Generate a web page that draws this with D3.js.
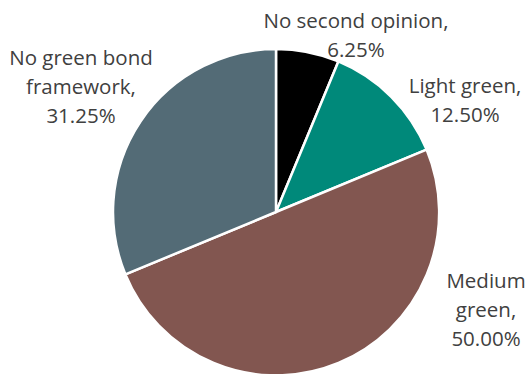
<!DOCTYPE html>
<html>
<head>
<meta charset="utf-8">
<script src="https://cdn.jsdelivr.net/npm/d3@7"></script>
<style>
  html, body { margin: 0; padding: 0; background: #ffffff; }
  svg { display: block; }
</style>
</head>
<body>
<svg id="chart" width="528" height="374"></svg>
<script>
// Share of green bonds by second-opinion shading
const categories = ["No second opinion", "Light green", "Medium green", "No green bond framework"];
const shares = [6.25, 12.50, 50.00, 31.25];
const sliceColors = ["#000000", "#00897a", "#825650", "#536b76"];

// Label text lines for each slice, and where each label block is centred
const labelLines = [
  ["No second opinion,", "6.25%"],
  ["Light green,", "12.50%"],
  ["Medium", "green,", "50.00%"],
  ["No green bond", "framework,", "31.25%"]
];
const labelAnchors = [
  { x: 356, y: 28 },
  { x: 465, y: 93 },
  { x: 486, y: 288 },
  { x: 81, y: 65 }
];

const width = 528, height = 374;
const cx = 276, cy = 212, radius = 163;
const lineStep = 28.8;

const svg = d3.select("#chart");

const slices = categories.map((c, i) => ({ category: c, value: shares[i], index: i }));

const pie = d3.pie()
  .sort(null)
  .value(d => d.value);

const arc = d3.arc()
  .innerRadius(0)
  .outerRadius(radius);

const color = d3.scaleOrdinal().domain(categories).range(sliceColors);

const g = svg.append("g").attr("transform", `translate(${cx},${cy})`);

g.selectAll("path")
  .data(pie(slices))
  .join("path")
  .attr("d", arc)
  .attr("fill", d => color(d.data.category))
  .attr("stroke", "#ffffff")
  .attr("stroke-width", 2.5)
  .attr("stroke-linejoin", "round");

const labels = svg.append("g")
  .attr("font-family", "'Open Sans', 'Noto Sans', sans-serif")
  .attr("font-size", 20.5)
  .attr("fill", "#404040")
  .attr("text-anchor", "middle");

labelLines.forEach((lines, i) => {
  const t = labels.append("text")
    .attr("x", labelAnchors[i].x)
    .attr("y", labelAnchors[i].y);
  lines.forEach((line, j) => {
    t.append("tspan")
      .attr("x", labelAnchors[i].x)
      .attr("y", labelAnchors[i].y + j * lineStep)
      .text(line);
  });
});
</script>
</body>
</html>
